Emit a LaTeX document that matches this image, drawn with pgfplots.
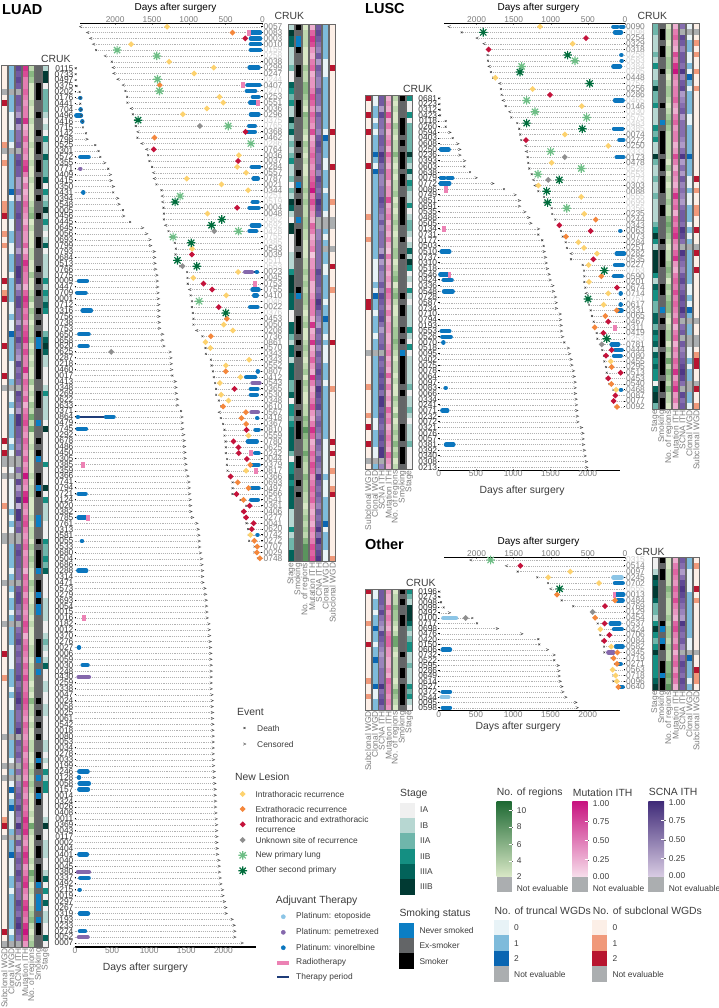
\documentclass[border=0pt]{standalone}
\usepackage{pgfplots}
\pgfplotsset{compat=1.18}
\usepackage{fontspec}
\setmainfont{Liberation Sans}

\definecolor{yel}{RGB}{253,210,110}
\definecolor{org}{RGB}{244,135,60}
\definecolor{rd}{RGB}{196,18,59}
\definecolor{gry}{RGB}{143,143,143}
\definecolor{lstar}{RGB}{109,190,133}
\definecolor{dstar}{RGB}{0,109,60}
\definecolor{vino}{RGB}{11,118,190}
\definecolor{peme}{RGB}{133,104,172}
\definecolor{etop}{RGB}{140,197,230}
\definecolor{radio}{RGB}{236,130,180}
\definecolor{peri}{RGB}{30,60,120}
\definecolor{idgray}{RGB}{125,125,125}
\definecolor{idlight}{RGB}{205,205,205}
\definecolor{labc}{RGB}{60,60,60}
\definecolor{framec}{RGB}{105,105,105}
\definecolor{ne}{RGB}{171,174,176}
\definecolor{stgA}{RGB}{240,240,240}
\definecolor{stgB}{RGB}{183,215,210}
\definecolor{stgC}{RGB}{111,182,171}
\definecolor{stgD}{RGB}{20,143,130}
\definecolor{stgE}{RGB}{2,99,90}
\definecolor{stgF}{RGB}{1,58,51}
\definecolor{smkN}{RGB}{11,126,196}
\definecolor{smkE}{RGB}{99,101,103}
\definecolor{regB}{RGB}{217,232,198}
\definecolor{regT}{RGB}{31,106,52}
\definecolor{mutB}{RGB}{247,222,235}
\definecolor{mutT}{RGB}{200,20,128}
\definecolor{scnB}{RGB}{217,204,227}
\definecolor{scnT}{RGB}{63,42,120}
\definecolor{cloA}{RGB}{232,243,247}
\definecolor{cloB}{RGB}{126,187,219}
\definecolor{cloC}{RGB}{10,102,178}
\definecolor{subA}{RGB}{252,239,231}
\definecolor{subB}{RGB}{240,153,122}
\definecolor{subC}{RGB}{184,21,47}
\newcommand{\q}[1]{\textcolor{idlight}{#1}}
\newcommand{\fid}{\fontsize{8.4}{8.4}\selectfont}
\newcommand{\flab}{\fontsize{10.4}{11}\selectfont}
\newcommand{\fsm}{\fontsize{8.4}{9.4}\selectfont}

% plot marks
\newlength{\ch}
\pgfdeclareplotmark{cell}{\pgfpathrectangle{\pgfpoint{-3.1pt}{-\ch}}{\pgfpoint{6.2pt}{2\ch}}\pgfusepathqfill}
\pgfdeclareplotmark{gt}{\pgfpathmoveto{\pgfpoint{-1.4pt}{1.2pt}}\pgfpathlineto{\pgfpoint{1.4pt}{0pt}}\pgfpathlineto{\pgfpoint{-1.4pt}{-1.2pt}}\pgfusepathqstroke}
\pgfdeclareplotmark{lt}{\pgfpathmoveto{\pgfpoint{1.4pt}{1.2pt}}\pgfpathlineto{\pgfpoint{-1.4pt}{0pt}}\pgfpathlineto{\pgfpoint{1.4pt}{-1.2pt}}\pgfusepathqstroke}
\pgfdeclareplotmark{dia}{\pgfpathmoveto{\pgfpoint{-3pt}{0pt}}\pgfpathlineto{\pgfpoint{0pt}{3pt}}\pgfpathlineto{\pgfpoint{3pt}{0pt}}\pgfpathlineto{\pgfpoint{0pt}{-3pt}}\pgfpathclose\pgfusepathqfill}
\pgfdeclareplotmark{burst}{%
  \pgfpathmoveto{\pgfpoint{-4.3pt}{0pt}}\pgfpathlineto{\pgfpoint{4.3pt}{0pt}}
  \pgfpathmoveto{\pgfpoint{0pt}{-4.3pt}}\pgfpathlineto{\pgfpoint{0pt}{4.3pt}}
  \pgfpathmoveto{\pgfpoint{-3.1pt}{-3.1pt}}\pgfpathlineto{\pgfpoint{3.1pt}{3.1pt}}
  \pgfpathmoveto{\pgfpoint{-3.1pt}{3.1pt}}\pgfpathlineto{\pgfpoint{3.1pt}{-3.1pt}}
  \pgfusepathqstroke}

\pgfplotsset{
  colormap={stg}{rgb255=(171,174,176) rgb255=(240,240,240) rgb255=(183,215,210) rgb255=(111,182,171) rgb255=(20,143,130) rgb255=(2,99,90) rgb255=(1,58,51) rgb255=(1,58,51) rgb255=(1,58,51) rgb255=(1,58,51)},
  colormap={smk}{rgb255=(171,174,176) rgb255=(11,126,196) rgb255=(99,101,103) rgb255=(0,0,0) rgb255=(0,0,0) rgb255=(0,0,0) rgb255=(0,0,0) rgb255=(0,0,0) rgb255=(0,0,0) rgb255=(0,0,0)},
  colormap={reg}{rgb255=(171,174,176) rgb255=(217,232,198) rgb255=(190,216,175) rgb255=(163,200,152) rgb255=(137,183,130) rgb255=(112,166,110) rgb255=(90,148,93) rgb255=(68,130,76) rgb255=(49,118,63) rgb255=(31,106,52)},
  colormap={mut}{rgb255=(171,174,176) rgb255=(247,222,235) rgb255=(243,200,222) rgb255=(238,175,208) rgb255=(232,150,193) rgb255=(227,125,178) rgb255=(222,100,163) rgb255=(217,76,150) rgb255=(210,50,138) rgb255=(200,20,128)},
  colormap={scn}{rgb255=(171,174,176) rgb255=(217,204,227) rgb255=(196,180,214) rgb255=(175,155,201) rgb255=(154,132,188) rgb255=(134,110,175) rgb255=(114,90,162) rgb255=(95,72,148) rgb255=(78,55,134) rgb255=(63,42,120)},
  colormap={clo}{rgb255=(171,174,176) rgb255=(232,243,247) rgb255=(126,187,219) rgb255=(10,102,178) rgb255=(10,102,178) rgb255=(10,102,178) rgb255=(10,102,178) rgb255=(10,102,178) rgb255=(10,102,178) rgb255=(10,102,178)},
  colormap={sub}{rgb255=(171,174,176) rgb255=(252,239,231) rgb255=(240,153,122) rgb255=(184,21,47) rgb255=(184,21,47) rgb255=(184,21,47) rgb255=(184,21,47) rgb255=(184,21,47) rgb255=(184,21,47) rgb255=(184,21,47)},
  cellplot/.style={scatter,only marks,mark=cell,point meta=\thisrowno{0},
    scatter/use mapped color={draw=none,fill=mapped color}},
  heat/.style={scale only axis,clip=false,width=48pt,y dir=reverse,
    xmin=-0.5,xmax=6.5,point meta min=0,point meta max=9,
    axis x line*=bottom,axis y line=none,x axis line style={draw=none},
    xtick={0,...,6},anchor=north west,
    xticklabel style={rotate=90,anchor=east,font=\fid,text=idgray,inner sep=1pt},
    x tick style={framec,line width=.8pt},major tick length=1.6pt},
  swimbase/.style={scale only axis,clip=false,y dir=reverse,anchor=north west,
    xtick={0,500,...,2000},
    /pgf/number format/1000 sep={},/pgf/number format/assume math mode=true,
    xticklabel style={font=\fid,text=idgray,inner sep=.5pt},
    x axis line style={-,black,line width=1.5pt},
    y axis line style={draw=none},
    x tick style={idgray,line width=.4pt},
    y tick style={black,line width=1pt},
    major tick length=1.2pt,
    xlabel style={font=\flab,text=labc,inner sep=0pt},
    yticklabel style={font=\fid,inner sep=1pt}},
  swimL/.style={swimbase,axis x line*=bottom,axis y line*=left,
    yticklabel style={text=black!80}},
  swimR/.style={swimbase,x dir=reverse,axis x line*=top,axis y line*=right,
    xmin=0,yticklabel style={text=idgray,anchor=west},xlabel near ticks},
  endbase/.style={scatter,only marks,point meta=explicit symbolic,
    /pgfplots/error bars/x dir=minus,/pgfplots/error bars/x explicit,/pgfplots/error bars/error mark=none,
    /pgfplots/error bars/error bar style={color=black!30,line width=.3pt,dash pattern=on 1pt off .9pt}},
  endsL/.style={scatter/classes={
    d={mark=x,mark size=1.3pt,draw=black!75,line width=.45pt},
    c={mark=gt,draw=black!75,line width=.4pt}},endbase},
  endsR/.style={scatter/classes={
    d={mark=x,mark size=1.3pt,draw=black!75,line width=.45pt},
    c={mark=lt,draw=black!75,line width=.4pt}},endbase},
  yl/.style={only marks,mark=dia,color=yel},
  og/.style={only marks,mark=dia,color=org},
  rr/.style={only marks,mark=dia,color=rd},
  gg/.style={only marks,mark=dia,color=gry},
  ls/.style={only marks,mark=burst,color=lstar,line width=1.2pt},
  ds/.style={only marks,mark=burst,color=dstar,line width=1.2pt},
  pk/.style={only marks,mark=square*,mark size=1.5pt,color=radio,mark options={yscale=1.7,xscale=.9}},
  hidden/.style={only marks,mark=*,mark size=0pt,mark options={draw=none,fill=none}},
}
\newcommand{\heatcol}[3]{\addplot[cellplot,colormap name=#2] table[header=false,row sep=\\,x expr=#1,y expr=\coordindex]{#3};}
\newcommand{\stops}[2]{\addplot[#1] table[header=false,row sep=\\,x index=0,y expr=\coordindex,meta index=1,x error expr=\thisrowno{0}]{#2};}
\newcommand{\thera}[2]{\addplot[hidden,error bars/.cd,x dir=plus,x explicit,error mark=none,error bar style={line width=4.4pt,line cap=round,color=#1}] table[header=false,row sep=\\,x index=0,y index=1,x error index=2]{#2};}
\newcommand{\period}[1]{\addplot[hidden,error bars/.cd,x dir=plus,x explicit,error mark=none,error bar style={line width=1.1pt,color=peri}] table[header=false,row sep=\\,x index=0,y index=1,x error index=2]{#1};}
\newcommand{\evt}[2]{\addplot[#1] coordinates {#2};}
\newcommand{\frames}[3]{\foreach \kk in {0,...,6}{\draw[framec,line width=.9pt] ({(#1+0.4+6.86*\kk)*1pt},{-#2*1pt}) rectangle ++(6.1pt,{-(#3-#2)*1pt});}}
\newcommand{\Tx}[3]{\node[anchor=west,inner sep=0pt,text=labc,font=\fsm,align=left] at (axis cs:#1,#2) {#3};}
\newcommand{\Hd}[3]{\node[anchor=west,inner sep=0pt,text=labc,font=\flab] at (axis cs:#1,#2) {#3};}
\newcommand{\Bx}[5]{\fill[#5] (axis cs:#1,#2) rectangle (axis cs:#3,#4);}
\newcommand{\Tk}[2]{\draw[white,line width=.5pt] (axis cs:#1-3,#2) -- (axis cs:#1,#2);\draw[black!60,line width=.4pt] (axis cs:#1,#2) -- (axis cs:#1+1.5,#2);}

\begin{document}
\begin{tikzpicture}
\path[use as bounding box] (0,0) rectangle (719pt,-1008pt);

%======================= LUAD, left heat =======================
\setlength{\ch}{3.0pt}
\begin{axis}[heat,at={(1pt,-65pt)},height=882pt,ymin=-0.5,ymax=148.5,
  xticklabels={Subclonal WGD,Clonal WGD,SCNA ITH,Mutation ITH,No. of regions,Smoking,Stage}]
\heatcol{0}{sub}{1\\1\\1\\1\\0\\1\\3\\1\\1\\1\\
1\\1\\1\\2\\0\\1\\2\\1\\1\\1\\
1\\1\\1\\2\\2\\3\\1\\1\\2\\1\\
2\\1\\1\\1\\1\\1\\3\\1\\2\\3\\
1\\1\\1\\1\\1\\1\\1\\3\\1\\1\\
1\\1\\3\\1\\0\\1\\1\\1\\1\\1\\
1\\1\\1\\3\\1\\3\\0\\0\\1\\0\\
1\\1\\1\\1\\2\\1\\1\\1\\1\\0\\
0\\1\\1\\1\\1\\1\\1\\0\\1\\1\\
1\\1\\1\\1\\0\\1\\1\\1\\1\\3\\
1\\1\\1\\2\\1\\1\\1\\1\\1\\1\\
1\\1\\1\\0\\1\\1\\1\\1\\0\\1\\
0\\1\\1\\1\\1\\1\\1\\2\\3\\1\\
0\\1\\1\\1\\1\\1\\1\\1\\1\\1\\
1\\1\\1\\1\\1\\1\\3\\1\\0\\}
\heatcol{1}{clo}{2\\2\\2\\2\\0\\2\\2\\2\\1\\1\\
1\\2\\2\\1\\0\\2\\2\\2\\2\\2\\
2\\3\\1\\2\\2\\2\\1\\1\\2\\2\\
1\\1\\2\\2\\2\\1\\2\\2\\2\\2\\
1\\1\\2\\1\\1\\3\\2\\2\\2\\2\\
1\\1\\1\\2\\0\\1\\1\\2\\1\\2\\
2\\2\\2\\1\\2\\1\\0\\0\\1\\0\\
1\\1\\1\\1\\1\\2\\1\\2\\1\\0\\
0\\2\\2\\2\\2\\1\\2\\0\\2\\1\\
2\\2\\1\\2\\0\\2\\2\\2\\1\\1\\
1\\1\\2\\2\\2\\1\\2\\1\\1\\2\\
2\\2\\2\\0\\2\\2\\2\\1\\0\\2\\
0\\1\\3\\1\\2\\3\\1\\1\\1\\2\\
0\\2\\2\\3\\1\\1\\1\\2\\2\\1\\
2\\2\\2\\2\\2\\2\\1\\2\\0\\}
\heatcol{2}{scn}{7\\6\\7\\6\\0\\6\\6\\5\\3\\7\\
3\\5\\5\\6\\0\\6\\7\\6\\6\\3\\
3\\5\\2\\6\\6\\7\\6\\6\\5\\5\\
5\\3\\6\\6\\8\\8\\7\\3\\5\\7\\
7\\5\\5\\3\\6\\5\\7\\5\\4\\3\\
7\\5\\6\\5\\0\\7\\6\\5\\3\\8\\
8\\6\\6\\5\\4\\6\\0\\0\\5\\0\\
7\\3\\5\\8\\2\\8\\8\\5\\6\\0\\
0\\6\\7\\6\\6\\5\\5\\0\\6\\7\\
7\\5\\4\\6\\0\\5\\6\\7\\5\\6\\
5\\6\\6\\7\\5\\6\\7\\8\\6\\5\\
5\\6\\8\\0\\6\\5\\6\\4\\0\\5\\
0\\4\\5\\6\\5\\7\\5\\4\\8\\5\\
0\\6\\3\\5\\6\\5\\7\\6\\4\\5\\
5\\7\\6\\5\\7\\8\\6\\5\\0\\}
\heatcol{3}{mut}{8\\7\\5\\5\\6\\5\\4\\5\\5\\8\\
3\\4\\6\\4\\5\\4\\7\\8\\5\\3\\
5\\3\\4\\6\\5\\4\\3\\5\\4\\4\\
6\\3\\5\\8\\6\\5\\5\\3\\6\\8\\
7\\5\\6\\4\\6\\7\\8\\5\\7\\5\\
5\\8\\4\\6\\5\\4\\6\\3\\5\\6\\
7\\5\\4\\6\\5\\4\\6\\4\\5\\9\\
5\\4\\8\\9\\5\\4\\6\\7\\5\\4\\
5\\6\\4\\5\\5\\3\\6\\5\\6\\4\\
6\\5\\4\\5\\7\\6\\3\\5\\6\\5\\
4\\6\\5\\7\\5\\5\\6\\7\\6\\5\\
4\\6\\5\\4\\5\\6\\4\\5\\6\\5\\
4\\7\\5\\4\\6\\5\\6\\8\\7\\8\\
5\\4\\6\\8\\7\\4\\5\\7\\8\\5\\
4\\7\\8\\6\\5\\8\\9\\7\\4\\}
\heatcol{4}{reg}{2\\4\\3\\1\\1\\1\\2\\1\\1\\2\\
1\\1\\1\\2\\1\\1\\2\\1\\1\\2\\
1\\1\\1\\2\\3\\4\\1\\2\\1\\1\\
1\\2\\2\\1\\1\\3\\1\\1\\2\\3\\
1\\3\\2\\1\\2\\2\\3\\1\\2\\1\\
2\\1\\1\\3\\1\\2\\1\\3\\2\\5\\
2\\5\\1\\1\\2\\1\\1\\1\\1\\2\\
1\\2\\2\\1\\1\\1\\2\\1\\2\\2\\
1\\3\\2\\3\\2\\1\\1\\3\\2\\1\\
1\\2\\2\\1\\2\\1\\1\\1\\2\\2\\
1\\2\\2\\2\\1\\2\\1\\4\\2\\2\\
1\\2\\1\\1\\2\\2\\1\\1\\2\\3\\
2\\3\\2\\1\\1\\1\\2\\1\\5\\2\\
1\\1\\1\\1\\2\\1\\5\\3\\1\\2\\
1\\1\\2\\3\\4\\2\\1\\2\\3\\}
\heatcol{5}{smk}{2\\2\\2\\3\\3\\3\\2\\2\\3\\2\\
2\\3\\2\\3\\3\\2\\3\\3\\2\\3\\
3\\2\\3\\2\\2\\3\\2\\2\\2\\3\\
3\\2\\2\\2\\3\\2\\3\\2\\3\\2\\
2\\3\\2\\3\\2\\3\\1\\1\\3\\3\\
3\\3\\3\\2\\2\\3\\3\\3\\2\\2\\
1\\2\\2\\3\\2\\3\\1\\2\\2\\3\\
3\\1\\3\\2\\2\\2\\1\\1\\2\\2\\
3\\2\\3\\3\\3\\1\\2\\3\\3\\1\\
3\\1\\1\\2\\2\\2\\2\\3\\3\\3\\
1\\2\\1\\2\\2\\2\\2\\3\\2\\3\\
2\\3\\2\\3\\2\\2\\3\\1\\3\\2\\
1\\2\\3\\1\\3\\2\\2\\2\\2\\2\\
3\\2\\3\\3\\2\\3\\3\\3\\1\\2\\
1\\1\\1\\2\\1\\3\\3\\2\\2\\}
\heatcol{6}{stg}{2\\6\\6\\1\\3\\3\\3\\3\\2\\1\\
2\\1\\4\\2\\2\\5\\3\\3\\3\\5\\
1\\4\\2\\3\\6\\2\\4\\2\\1\\2\\
5\\1\\2\\2\\2\\2\\4\\2\\4\\3\\
5\\4\\1\\1\\1\\3\\5\\6\\5\\2\\
2\\1\\1\\1\\2\\4\\2\\2\\2\\2\\
1\\6\\1\\1\\1\\1\\1\\4\\1\\1\\
1\\6\\1\\4\\2\\2\\2\\1\\1\\1\\
4\\3\\3\\4\\3\\5\\1\\1\\1\\1\\
2\\2\\2\\2\\1\\1\\2\\3\\2\\1\\
2\\5\\1\\1\\2\\2\\1\\1\\2\\2\\
1\\1\\1\\1\\2\\2\\1\\2\\1\\4\\
2\\4\\4\\1\\1\\1\\1\\2\\6\\1\\
1\\2\\2\\2\\1\\1\\2\\5\\1\\4\\
1\\5\\1\\2\\2\\1\\1\\5\\1\\}
\end{axis}
\frames{1}{65}{947}

%======================= LUAD, right heat =======================
\setlength{\ch}{2.95pt}
\begin{axis}[heat,at={(288pt,-24pt)},height=537.7pt,ymin=-0.5,ymax=91.5,
  xticklabels={Stage,Smoking,No. of regions,Mutation ITH,SCNA ITH,Clonal WGD,Subclonal WGD}]
\heatcol{0}{stg}{2\\6\\5\\5\\2\\2\\2\\3\\1\\1\\
5\\4\\3\\4\\2\\2\\6\\3\\5\\2\\
3\\2\\3\\4\\2\\2\\3\\1\\3\\2\\
6\\5\\2\\1\\6\\6\\1\\1\\1\\2\\
2\\2\\4\\6\\6\\6\\5\\5\\5\\1\\
1\\5\\5\\3\\2\\5\\5\\2\\5\\5\\
5\\3\\3\\5\\1\\4\\4\\3\\4\\5\\
5\\5\\5\\3\\1\\4\\4\\5\\4\\5\\
5\\5\\5\\2\\2\\2\\4\\2\\3\\3\\5\\5\\}
\heatcol{1}{smk}{3\\2\\1\\1\\3\\2\\2\\3\\3\\2\\
2\\2\\2\\3\\3\\3\\2\\2\\2\\2\\
3\\2\\3\\2\\2\\3\\2\\1\\3\\2\\
3\\2\\2\\1\\2\\3\\3\\3\\2\\3\\
2\\2\\2\\2\\2\\3\\1\\2\\2\\2\\
3\\3\\3\\2\\3\\2\\3\\2\\2\\2\\
2\\3\\3\\3\\3\\2\\3\\2\\3\\3\\
3\\2\\2\\2\\3\\3\\2\\2\\3\\2\\
3\\2\\2\\2\\2\\2\\2\\2\\2\\2\\2\\2\\}
\heatcol{2}{reg}{1\\2\\2\\2\\1\\1\\1\\3\\2\\2\\
4\\4\\3\\2\\1\\4\\3\\3\\2\\1\\
3\\2\\1\\2\\1\\1\\2\\2\\3\\2\\
3\\2\\2\\3\\3\\2\\2\\1\\1\\1\\
2\\2\\3\\2\\3\\2\\3\\3\\2\\1\\
2\\3\\1\\1\\2\\3\\2\\1\\2\\3\\
1\\3\\2\\1\\1\\2\\2\\4\\3\\6\\
4\\3\\3\\5\\3\\2\\2\\4\\3\\3\\
2\\2\\1\\2\\3\\2\\3\\2\\4\\6\\6\\6\\}
\heatcol{3}{mut}{3\\6\\8\\7\\4\\3\\5\\6\\3\\4\\
4\\5\\7\\6\\4\\6\\5\\4\\7\\3\\
4\\5\\6\\5\\4\\5\\6\\7\\9\\5\\
7\\5\\4\\3\\6\\5\\3\\4\\5\\2\\
4\\4\\5\\5\\3\\3\\4\\5\\5\\5\\
3\\8\\3\\4\\8\\3\\4\\6\\4\\3\\
8\\5\\3\\4\\5\\7\\4\\3\\5\\8\\
6\\3\\4\\6\\5\\7\\6\\4\\5\\6\\
5\\6\\4\\3\\4\\3\\5\\4\\5\\7\\6\\7\\}
\heatcol{4}{scn}{6\\7\\6\\5\\4\\6\\3\\6\\5\\4\\
4\\6\\5\\5\\3\\6\\5\\5\\4\\6\\
7\\6\\5\\5\\6\\4\\7\\6\\5\\6\\
8\\7\\6\\0\\0\\4\\4\\5\\5\\5\\
5\\5\\7\\6\\6\\5\\6\\8\\7\\5\\
4\\3\\6\\5\\6\\4\\6\\5\\6\\7\\
6\\5\\8\\7\\6\\7\\4\\5\\6\\5\\
4\\6\\5\\4\\6\\5\\4\\8\\6\\5\\
6\\5\\4\\6\\5\\6\\8\\5\\8\\6\\7\\8\\}
\heatcol{5}{clo}{2\\2\\2\\2\\2\\2\\1\\1\\1\\2\\
2\\2\\2\\2\\2\\2\\2\\2\\1\\3\\
2\\2\\2\\1\\1\\2\\2\\2\\1\\2\\
2\\2\\1\\0\\0\\2\\1\\2\\0\\2\\
2\\1\\1\\2\\2\\2\\2\\1\\2\\2\\
3\\2\\2\\1\\2\\1\\1\\1\\2\\2\\
2\\1\\2\\2\\2\\2\\2\\2\\2\\2\\
2\\1\\1\\1\\1\\1\\1\\2\\1\\1\\
1\\2\\2\\2\\2\\3\\1\\2\\2\\2\\1\\1\\}
\heatcol{6}{sub}{1\\1\\1\\1\\1\\1\\1\\3\\1\\1\\
1\\1\\1\\1\\1\\1\\1\\1\\3\\1\\
1\\1\\1\\1\\3\\1\\1\\1\\1\\1\\
2\\1\\1\\0\\0\\1\\1\\1\\0\\1\\
1\\3\\1\\1\\1\\2\\1\\1\\1\\1\\
1\\1\\1\\1\\3\\1\\1\\1\\1\\1\\
1\\1\\2\\1\\1\\1\\1\\1\\1\\1\\
1\\3\\1\\3\\1\\1\\2\\1\\1\\2\\
3\\1\\1\\1\\1\\1\\1\\1\\1\\1\\1\\2\\}
\end{axis}
\frames{288}{24}{561.7}

%======================= LUSC, left heat =======================
\setlength{\ch}{2.9pt}
\begin{axis}[heat,at={(364.7pt,-95pt)},height=374.3pt,ymin=-0.5,ymax=65.5,
  xticklabels={Subclonal WGD,Clonal WGD,SCNA ITH,Mutation ITH,No. of regions,Smoking,Stage}]
\heatcol{0}{sub}{3\\1\\1\\3\\1\\1\\3\\1\\1\\1\\
1\\1\\3\\1\\1\\1\\1\\1\\1\\1\\
1\\2\\1\\1\\1\\2\\1\\1\\1\\1\\
1\\1\\1\\1\\1\\1\\3\\3\\1\\1\\
1\\1\\1\\1\\1\\0\\1\\1\\1\\1\\
1\\2\\1\\1\\1\\1\\2\\1\\3\\1\\
1\\3\\1\\1\\0\\1\\}
\heatcol{1}{clo}{1\\1\\2\\2\\1\\2\\1\\2\\2\\2\\
3\\2\\1\\3\\2\\2\\2\\2\\2\\2\\
2\\2\\2\\2\\2\\2\\2\\2\\2\\1\\
1\\1\\1\\2\\1\\3\\2\\2\\1\\2\\
2\\2\\1\\2\\2\\0\\2\\2\\2\\2\\
2\\2\\2\\2\\2\\2\\2\\1\\1\\2\\
2\\2\\1\\1\\0\\2\\}
\heatcol{2}{scn}{6\\6\\3\\7\\5\\5\\4\\6\\6\\5\\
8\\7\\5\\6\\4\\4\\5\\5\\7\\6\\
5\\4\\6\\4\\5\\5\\5\\3\\7\\3\\
5\\4\\4\\6\\4\\7\\6\\5\\6\\7\\
5\\3\\5\\5\\6\\0\\6\\5\\6\\7\\
6\\7\\5\\8\\8\\6\\7\\6\\5\\6\\
7\\6\\8\\8\\0\\4\\}
\heatcol{3}{mut}{3\\4\\3\\7\\3\\5\\3\\4\\5\\3\\
6\\4\\3\\5\\5\\3\\4\\4\\7\\3\\
4\\5\\3\\4\\3\\5\\3\\2\\5\\3\\
4\\3\\4\\3\\6\\5\\4\\3\\5\\3\\
4\\4\\3\\3\\4\\5\\3\\4\\3\\6\\
3\\5\\3\\4\\3\\6\\4\\5\\3\\4\\
5\\4\\3\\6\\4\\3\\}
\heatcol{4}{reg}{2\\1\\2\\1\\1\\3\\2\\1\\2\\2\\
4\\2\\1\\2\\1\\2\\2\\3\\1\\2\\
1\\2\\3\\2\\1\\2\\2\\3\\3\\1\\
2\\3\\4\\1\\3\\4\\2\\1\\1\\2\\
2\\3\\3\\4\\3\\2\\1\\2\\2\\1\\
2\\1\\1\\3\\2\\1\\3\\1\\2\\3\\
2\\4\\2\\3\\1\\2\\}
\heatcol{5}{smk}{3\\2\\2\\2\\3\\3\\3\\2\\3\\2\\
3\\3\\3\\2\\3\\3\\2\\2\\3\\3\\
3\\3\\3\\2\\2\\3\\2\\2\\3\\2\\
2\\2\\2\\2\\2\\3\\2\\3\\3\\2\\
2\\3\\2\\3\\2\\1\\3\\3\\3\\3\\
3\\2\\3\\2\\2\\2\\2\\2\\3\\3\\
3\\2\\3\\3\\3\\2\\}
\heatcol{6}{stg}{4\\1\\1\\4\\1\\3\\3\\3\\3\\3\\
6\\3\\2\\5\\2\\4\\3\\2\\2\\4\\
1\\2\\3\\3\\2\\1\\2\\5\\2\\6\\
4\\1\\2\\1\\4\\2\\1\\2\\2\\2\\
2\\4\\2\\1\\4\\1\\2\\2\\2\\2\\
2\\3\\1\\2\\2\\3\\2\\1\\2\\2\\
2\\3\\1\\1\\1\\1\\}
\end{axis}
\frames{364.7}{95}{469.3}

%======================= LUSC, right heat =======================
\setlength{\ch}{2.9pt}
\begin{axis}[heat,at={(651.7pt,-23.3pt)},height=385.7pt,ymin=-0.5,ymax=67.5,
  xticklabels={Stage,Smoking,No. of regions,Mutation ITH,SCNA ITH,Clonal WGD,Subclonal WGD}]
\heatcol{0}{stg}{3\\3\\2\\2\\2\\3\\2\\4\\2\\2\\
3\\6\\3\\3\\4\\2\\2\\2\\4\\3\\
4\\2\\2\\6\\3\\2\\2\\3\\2\\2\\
3\\2\\2\\2\\2\\3\\4\\6\\4\\2\\
6\\6\\6\\6\\4\\2\\5\\4\\4\\3\\
3\\5\\5\\3\\5\\4\\5\\2\\5\\4\\
5\\4\\4\\1\\5\\6\\6\\3\\}
\heatcol{1}{smk}{2\\3\\3\\2\\3\\3\\2\\2\\3\\2\\
2\\2\\2\\2\\3\\2\\2\\1\\2\\3\\
3\\3\\3\\2\\3\\3\\2\\3\\3\\3\\
2\\2\\3\\3\\2\\2\\2\\2\\3\\2\\
3\\3\\3\\2\\2\\2\\3\\3\\2\\2\\
1\\2\\3\\2\\3\\3\\3\\2\\3\\3\\
3\\3\\2\\3\\3\\2\\3\\3\\}
\heatcol{2}{reg}{1\\2\\2\\1\\2\\2\\3\\3\\2\\1\\
2\\3\\3\\2\\1\\2\\3\\4\\3\\2\\
2\\2\\2\\2\\1\\3\\1\\2\\1\\2\\
2\\3\\2\\2\\4\\5\\4\\3\\2\\1\\
2\\2\\3\\4\\3\\1\\3\\2\\3\\4\\
4\\2\\1\\2\\3\\3\\1\\3\\2\\5\\
2\\4\\3\\2\\4\\2\\2\\1\\}
\heatcol{3}{mut}{3\\5\\6\\4\\3\\7\\5\\8\\9\\5\\
4\\5\\5\\6\\4\\3\\5\\6\\4\\5\\
5\\3\\4\\7\\5\\3\\5\\4\\3\\5\\
8\\5\\6\\3\\6\\5\\7\\8\\5\\4\\
6\\8\\4\\3\\5\\6\\5\\7\\5\\6\\
5\\4\\6\\3\\5\\6\\3\\5\\4\\6\\
5\\8\\4\\6\\8\\4\\5\\3\\}
\heatcol{4}{scn}{5\\0\\7\\6\\4\\6\\6\\5\\8\\4\\
6\\7\\3\\4\\5\\6\\3\\5\\5\\5\\
4\\3\\5\\8\\3\\5\\3\\6\\4\\5\\
4\\3\\5\\6\\6\\5\\8\\7\\5\\0\\
8\\6\\5\\4\\6\\7\\5\\6\\7\\6\\
8\\6\\0\\5\\6\\0\\6\\4\\5\\6\\
7\\8\\7\\5\\0\\7\\5\\6\\}
\heatcol{5}{clo}{1\\0\\1\\2\\2\\1\\1\\2\\1\\3\\
2\\1\\2\\2\\2\\2\\1\\1\\2\\2\\
2\\2\\2\\3\\2\\2\\2\\1\\1\\2\\
1\\1\\2\\2\\2\\1\\2\\1\\2\\0\\
2\\2\\2\\2\\2\\2\\1\\1\\2\\1\\
3\\2\\0\\2\\2\\0\\0\\1\\1\\2\\
1\\2\\2\\0\\0\\2\\2\\1\\}
\heatcol{6}{sub}{1\\0\\1\\2\\1\\2\\1\\1\\2\\1\\
1\\2\\1\\1\\1\\1\\1\\1\\1\\1\\
1\\1\\1\\1\\1\\1\\1\\3\\1\\2\\
1\\1\\2\\2\\1\\1\\3\\1\\1\\0\\
3\\1\\1\\3\\1\\1\\1\\1\\1\\1\\
1\\1\\0\\1\\1\\0\\0\\1\\2\\3\\
3\\1\\1\\0\\3\\1\\1\\2\\}
\end{axis}
\frames{651.7}{23.3}{409}

%======================= Other, left heat =======================
\setlength{\ch}{2.7pt}
\begin{axis}[heat,at={(364.7pt,-589pt)},height=121pt,ymin=-0.5,ymax=22.5,
  xticklabels={Subclonal WGD,Clonal WGD,SCNA ITH,Mutation ITH,No. of regions,Smoking,Stage}]
\heatcol{0}{sub}{3\\1\\1\\1\\1\\1\\2\\1\\1\\1\\3\\1\\1\\1\\1\\1\\1\\2\\1\\1\\2\\1\\1\\}
\heatcol{1}{clo}{1\\1\\2\\2\\1\\2\\2\\3\\2\\2\\1\\2\\2\\3\\2\\2\\2\\2\\3\\1\\1\\2\\2\\}
\heatcol{2}{scn}{6\\6\\6\\5\\7\\5\\4\\3\\7\\6\\5\\4\\3\\4\\4\\5\\5\\5\\8\\5\\6\\7\\5\\}
\heatcol{3}{mut}{4\\3\\3\\6\\4\\5\\4\\3\\5\\6\\6\\4\\4\\3\\3\\4\\3\\6\\5\\5\\4\\5\\4\\}
\heatcol{4}{reg}{1\\2\\2\\4\\3\\3\\2\\1\\2\\5\\5\\2\\1\\2\\2\\2\\2\\1\\2\\4\\3\\2\\1\\}
\heatcol{5}{smk}{3\\2\\3\\2\\2\\3\\3\\2\\2\\2\\2\\2\\3\\2\\2\\3\\3\\2\\3\\3\\3\\3\\2\\}
\heatcol{6}{stg}{4\\3\\2\\6\\6\\6\\5\\3\\2\\3\\4\\4\\2\\2\\3\\2\\2\\2\\4\\3\\4\\2\\1\\}
\end{axis}
\frames{364.7}{589}{710}

%======================= Other, right heat =======================
\setlength{\ch}{2.95pt}
\begin{axis}[heat,at={(651.7pt,-557.3pt)},height=132.7pt,ymin=-0.5,ymax=22.5,
  xticklabels={Stage,Smoking,No. of regions,Mutation ITH,SCNA ITH,Clonal WGD,Subclonal WGD}]
\heatcol{0}{stg}{1\\1\\2\\6\\5\\6\\6\\5\\3\\3\\2\\4\\6\\4\\3\\4\\6\\4\\4\\4\\4\\5\\6\\}
\heatcol{1}{smk}{3\\2\\3\\3\\2\\2\\2\\2\\2\\2\\2\\3\\1\\2\\1\\3\\2\\2\\3\\3\\1\\3\\3\\}
\heatcol{2}{reg}{1\\1\\2\\2\\2\\4\\3\\2\\2\\2\\3\\2\\3\\3\\2\\3\\2\\2\\4\\4\\5\\4\\6\\}
\heatcol{3}{mut}{3\\5\\6\\5\\4\\6\\5\\7\\5\\4\\3\\6\\7\\5\\4\\6\\3\\5\\6\\4\\6\\5\\3\\}
\heatcol{4}{scn}{6\\5\\3\\5\\7\\8\\7\\6\\5\\4\\3\\8\\6\\5\\6\\4\\0\\5\\7\\6\\5\\7\\6\\}
\heatcol{5}{clo}{2\\2\\1\\1\\1\\1\\2\\2\\2\\2\\2\\2\\2\\2\\1\\1\\0\\3\\2\\2\\2\\1\\2\\}
\heatcol{6}{sub}{1\\2\\1\\1\\1\\3\\1\\2\\1\\1\\1\\1\\1\\1\\1\\1\\0\\1\\1\\3\\2\\2\\1\\}
\end{axis}
\frames{651.7}{557.3}{690}

%======================= LUAD, left swimmers =======================
\begin{axis}[swimL,at={(74.6pt,-65.3pt)},width=181.4pt,height=881.7pt,
  xmin=-5,xmax=2440,ymin=-0.5,ymax=148.68,
  xlabel={Days after surgery},xlabel style={xshift=-20pt,yshift=-8.5pt},
  ytick={0,...,148},
  yticklabels={0115,0733,0497,0375,0202,0176,0441,0704,0496,0416,0715,0142,0798,0525,0301,0572,0355,0771,0409,0415,0350,0431,0394,0548,0005,0456,0445,0645,0056,0693,0799,0793,0684,0513,0766,0775,0009,0447,0709,0001,0712,0316,0756,0738,0753,0650,0658,0620,0625,0287,0218,0460,0017,0413,0348,0269,0622,0633,0371,0864,0479,0745,0292,0678,0486,0450,0305,0385,0359,0366,0741,0794,0721,0124,0020,0382,0785,0761,0313,0581,0055,0533,0680,0504,0686,0288,0314,0471,0573,0279,0693,0054,0015,0016,0182,0012,0370,0276,0027,0006,0059,0030,0248,0430,0259,0338,0047,0024,0058,0025,0061,0542,0018,0080,0053,0034,0278,0033,0199,0246,0128,0058,0157,0014,0324,0026,0408,0011,0369,0043,0117,0002,0404,0401,0040,0045,0380,0337,0492,0215,0019,0297,0267,0319,0193,0233,0274,0052,0007}]
\stops{endsL}{10 d\\10 d\\10 d\\20 d\\63 d\\72 d\\72 d\\85 d\\85 d\\103 d\\
108 d\\148 d\\161 c\\274 d\\318 d\\341 d\\399 c\\448 d\\475 c\\484 c\\
516 c\\516 d\\574 c\\592 c\\646 d\\655 c\\744 d\\910 c\\964 c\\1009 c\\
1018 c\\1067 c\\1072 c\\1076 c\\1085 c\\1103 c\\1108 c\\1112 c\\1117 c\\1121 c\\
1126 c\\1130 c\\1130 c\\1134 c\\1139 c\\1179 c\\1179 c\\1197 c\\1282 c\\1291 c\\
1296 c\\1300 c\\1314 d\\1350 c\\1359 c\\1363 c\\1377 c\\1381 c\\1430 d\\1439 c\\
1444 c\\1448 c\\1462 c\\1471 c\\1475 c\\1480 c\\1484 c\\1493 c\\1498 c\\1520 c\\
1534 c\\1538 c\\1542 c\\1551 c\\1556 c\\1560 c\\1583 c\\1641 c\\1659 c\\1668 c\\
1673 c\\1677 c\\1690 c\\1704 c\\1708 c\\1717 c\\1717 c\\1722 c\\1749 c\\1758 c\\
1767 c\\1771 c\\1775 c\\1780 c\\1803 c\\1807 c\\1812 c\\1821 c\\1825 c\\1829 c\\
1829 c\\1834 c\\1834 c\\1834 c\\1834 c\\1834 c\\1843 c\\1847 c\\1847 c\\1852 c\\
1852 c\\1856 c\\1856 c\\1861 c\\1861 c\\1861 c\\1861 c\\1865 c\\1865 c\\1874 c\\
1874 c\\1883 c\\1888 c\\1888 c\\1892 c\\1892 c\\1897 c\\1901 c\\1906 c\\1906 c\\
1910 c\\1910 c\\1915 c\\1919 c\\1937 c\\1942 c\\1946 c\\1955 c\\1964 c\\1986 c\\
1991 c\\2013 c\\2031 c\\2036 c\\2116 c\\2143 c\\2152 c\\2152 c\\2251 c\\}
\period{40 59 400\\}
\thera{vino}{71 5 2\\75 7 2\\18 8 63\\98 9 2\\72 15 112\\111 21 2\\54 36 107\\31 38 112\\103 41 112\\58 45 126\\63 47 107\\39 59 2\\417 59 103\\36 61 112\\49 72 94\\49 76 90\\93 80 2\\45 85 107\\53 98 2\\103 101 67\\58 119 112\\53 120 2\\63 121 125\\58 122 117\\58 133 103\\72 137 112\\62 139 2\\67 143 108\\67 146 68\\}
\thera{peme}{71 17 2\\49 103 139\\40 136 148\\54 147 116\\}
\evt{pk}{(103,67)(170,76)(121,93)}
\evt{gg}{(489,48)}
\end{axis}

%======================= LUAD, right swimmers =======================
\begin{axis}[swimR,at={(80.5pt,-23.3pt)},width=182pt,height=537.9pt,
  xmax=2470,ymin=-0.58,ymax=91.5,
  xlabel={Days after surgery},xlabel style={xshift=4pt},
  ytick={0,...,91},
  yticklabels={0057,0083,0003,0010,\q{0159},\q{0258},0038,0299,0247,\q{0244},0407,\q{0270},0253,0551,0036,0296,\q{0375},\q{0765},0368,0462,\q{0286},0764,0036,0037,0284,0557,0787,0021,0344,\q{0251},\q{0519},0004,0048,\q{0362},\q{0692},\q{0428},\q{0755},\q{0385},0543,0039,\q{0511},\q{0553},0023,0045,0753,0755,0410,\q{0046},0022,\q{0376},0453,0050,0208,0736,0861,0570,0343,0343,0552,0807,0412,0543,0365,0530,0348,0610,0567,0418,0367,0810,0559,0780,0625,0242,0044,0379,0817,0366,0693,0497,0566,0541,0361,0406,0277,0041,0620,0742,0272,0707,0029,0748}]
\stops{endsR}{2466 c\\2371 c\\2330 c\\2290 c\\2258 d\\2131 c\\2045 d\\2023 c\\2014 c\\1959 c\\
1887 c\\1860 d\\1837 d\\1833 d\\1778 c\\1760 d\\1724 d\\1720 d\\1688 c\\1697 d\\
1634 c\\1570 c\\1552 d\\1534 d\\1498 d\\1475 c\\1466 c\\1439 d\\1371 d\\1358 c\\
1353 c\\1344 d\\1339 d\\1339 d\\1312 c\\1276 d\\1240 d\\1190 d\\1176 d\\1181 d\\
1181 c\\1118 d\\1023 d\\1018 d\\1014 d\\986 c\\977 d\\959 d\\959 d\\946 d\\
937 d\\937 d\\891 c\\815 d\\774 d\\774 d\\769 d\\701 d\\692 d\\674 d\\
661 d\\643 d\\629 d\\629 d\\593 d\\561 d\\584 c\\566 d\\534 d\\516 d\\
516 d\\502 d\\498 d\\498 d\\480 d\\484 d\\475 d\\453 d\\407 d\\407 d\\
407 d\\299 d\\222 d\\272 d\\244 d\\217 d\\195 d\\186 d\\181 d\\109 d\\109 d\\63 d\\}
\period{86 10 14\\77 42 68\\}
\thera{vino}{32 1 126\\32 2 126\\32 3 126\\32 4 126\\54 7 122\\100 10 104\\41 10 45\\100 11 113\\54 12 77\\77 13 90\\54 15 104\\104 17 77\\104 18 100\\45 24 100\\63 26 59\\68 30 63\\54 31 122\\41 34 104\\86 35 90\\76 42 2\\54 45 82\\77 46 36\\68 48 99\\62 59 2\\100 60 122\\68 62 90\\77 63 81\\71 67 2\\54 69 41\\77 71 122\\54 73 46\\54 75 82\\54 79 91\\63 81 91\\67 87 2\\}
\thera{peme}{145 42 90\\41 61 95\\63 66 86\\}
\evt{pk}{(190,1)(271,10)(63,13)(104,44)(158,73)(95,76)}
\evt{yl}{(1294,0)(1783,3)(1267,6)(661,7)(928,8)(584,12)(534,13)(756,14)(1081,15)(321,22)(344,24)(222,25)(1027,26)(557,27)(195,28)(747,32)(955,38)(330,42)(941,43)(493,46)(525,51)(403,52)(774,54)(706,55)(181,57)(498,58)(299,60)(579,61)(561,63)(462,64)(190,70)(222,76)(163,87)}
\evt{og}{(407,1)(1394,10)(1466,19)(484,50)(701,53)(498,59)(534,65)(226,66)(285,67)(222,68)(167,75)(335,78)(190,79)(258,81)(109,88)(72,89)(77,90)(36,91)}
\evt{rr}{(235,2)(231,18)(1475,21)(330,23)(344,31)(959,39)(801,44)(683,45)(593,48)(380,62)(217,69)(394,71)(326,72)(321,73)(213,74)(434,77)(353,80)(176,82)(253,83)(222,84)(122,85)(145,86)}
\evt{gg}{(851,17)(656,35)(1086,41)}
\evt{ls}{(1973,4)(1434,5)(1425,9)(1398,11)(466,17)(158,20)(1118,29)(326,35)(1213,36)(860,47)}
\evt{ds}{(1688,16)(1186,30)(552,33)(692,34)(968,37)(1154,40)(891,41)(498,49)}
\end{axis}

%======================= LUSC, left swimmers =======================
\begin{axis}[swimL,at={(438.3pt,-95.5pt)},width=181.4pt,height=374.8pt,
  xmin=-5,xmax=2430,ymin=-0.5,ymax=65.53,
  xlabel={Days after surgery},xlabel style={xshift=-7pt,yshift=-8pt},
  ytick={0,...,65},
  yticklabels={0681,0223,0312,0423,0118,0260,0594,0403,0608,0250,0236,0393,0603,0638,0079,0772,0086,0749,0851,0691,0535,0488,0505,0134,0731,0177,0503,0510,0737,0310,0518,0546,0424,0336,0548,0728,0587,0734,0710,0794,0193,0553,0526,0070,0518,0095,0402,0075,0078,0064,0097,0083,0066,0334,0241,0071,0232,0072,0321,0076,0057,0381,0392,0340,0308,0213}]
\stops{endsL}{10 d\\10 d\\15 d\\20 d\\94 d\\94 d\\148 c\\188 d\\255 c\\282 c\\
282 c\\345 c\\345 d\\420 d\\501 c\\725 c\\877 d\\1025 c\\1083 c\\1083 c\\
1154 c\\1208 c\\1235 c\\1338 c\\1338 d\\1391 d\\1409 d\\1414 c\\1432 c\\1441 c\\
1458 c\\1481 c\\1494 c\\1530 c\\1539 c\\1566 c\\1575 c\\1579 c\\1629 c\\1633 c\\
1642 c\\1646 c\\1660 c\\1687 d\\1740 c\\1754 c\\1776 c\\1785 c\\1807 c\\1816 c\\
1830 c\\1830 c\\1834 c\\1843 c\\1847 c\\1852 c\\1861 c\\1865 c\\1915 c\\1933 c\\
1937 c\\1942 c\\1955 c\\1964 c\\1982 c\\1986 c\\}
\period{76 14 45\\}
\thera{vino}{31 9 103\\31 14 45\\121 14 62\\27 15 116\\40 27 103\\22 31 108\\67 32 107\\72 34 116\\40 41 103\\49 42 112\\62 43 2\\93 51 2\\49 55 67\\98 61 99\\}
\evt{pk}{(98,16)(72,23)(143,31)}
\end{axis}

%======================= LUSC, right swimmers =======================
\begin{axis}[swimR,at={(444pt,-23.3pt)},width=181pt,height=386.3pt,
  xmax=2439,ymin=-0.6,ymax=67.5,
  xlabel={Days after surgery},xlabel style={xshift=4pt},
  ytick={0,...,67},
  yticklabels={0090,\q{0098},0254,0329,0318,\q{0258},\q{0583},\q{0384},\q{0285},0448,\q{0752},0256,0286,\q{0465},0146,\q{0330},\q{0575},\q{0483},\q{0385},0074,0272,0250,\q{0333},0173,0478,\q{0528},\q{0553},\q{0373},0303,0088,\q{0555},\q{0699},\q{0356},0235,0244,0343,0063,0073,0284,0251,0282,0535,0227,\q{0763},0590,0201,0674,0714,\q{0751},0617,0331,0065,0467,0311,0419,\q{0253},0781,0444,0080,0455,0295,0513,0453,0540,0468,0087,0077,0092}]
\stops{endsR}{2368 c\\2202 d\\1991 c\\1896 c\\1843 d\\1852 d\\1847 d\\1829 c\\1807 d\\1775 d\\
1685 c\\1672 d\\1663 d\\1640 c\\1609 d\\1550 c\\1532 d\\1452 d\\1425 d\\1411 d\\
1398 d\\1335 c\\1326 c\\1312 d\\1303 d\\1290 d\\1258 d\\1231 c\\1209 c\\1168 d\\
1092 d\\1074 d\\989 d\\980 d\\939 d\\885 d\\863 d\\840 d\\800 d\\782 d\\
724 c\\728 d\\571 d\\553 d\\548 d\\548 d\\535 d\\521 c\\499 d\\485 d\\
463 d\\445 d\\422 d\\413 d\\382 d\\373 d\\315 d\\306 d\\283 d\\279 d\\
256 d\\247 d\\247 d\\211 d\\157 d\\135 d\\157 d\\126 d\\}
\period{58 0 45\\}
\thera{vino}{103 0 54\\22 0 36\\54 1 81\\48 5 2\\44 6 2\\67 7 90\\31 13 104\\36 18 112\\22 20 54\\22 23 90\\62 36 2\\13 40 99\\31 42 104\\45 44 103\\57 47 2\\57 49 2\\45 50 58\\90 56 90\\45 57 90\\58 58 90\\53 64 2\\}
\evt{pk}{(139,53)}
\evt{yl}{(1146,0)(706,3)(1748,9)(1245,11)(584,14)(809,19)(225,21)(989,24)(1168,28)(589,30)(548,33)(629,38)(553,39)(377,40)(490,42)(485,45)(225,47)(288,49)(193,59)(121,64)}
\evt{og}{(395,34)(795,37)(319,44)(112,50)(265,51)(409,53)(180,60)(184,63)(108,67)}
\evt{rr}{(526,2)(1838,4)(1011,12)(1335,20)(885,35)(463,36)(427,41)(108,46)(225,52)(292,54)(180,57)(256,58)(58,61)(225,62)(130,65)(153,66)}
\evt{gg}{(813,23)(1034,27)(315,56)}
\evt{ls}{(674,6)(1393,7)(1326,13)(1213,15)(517,16)(1002,22)(589,25)(1173,26)(786,32)}
\evt{ds}{(1910,1)(773,5)(1416,8)(476,10)(1326,17)(575,18)(885,27)(1056,29)(1043,31)(279,43)(499,48)(247,55)}
\end{axis}

%======================= Other, left swimmers =======================
\begin{axis}[swimL,at={(438.3pt,-589pt)},width=181.4pt,height=121.7pt,
  xmin=-5,xmax=2430,ymin=-0.5,ymax=22.57,
  xlabel={Days after surgery},xlabel style={xshift=-11pt,yshift=-4pt},
  ytick={0,...,22},
  yticklabels={0196,0273,0098,0099,0492,0100,0717,0698,0476,0420,0150,0606,0732,0522,0595,0286,0649,0614,0527,0372,0544,0095,0598}]
\stops{endsL}{10 d\\10 d\\31 d\\67 d\\143 c\\452 d\\515 d\\787 c\\1114 c\\1338 d\\1351 d\\1458 c\\1548 c\\1552 d\\1602 c\\1611 c\\1615 c\\1629 c\\1651 c\\1664 c\\1705 c\\1839 c\\1857 c\\}
\thera{etop}{63 5 170\\40 20 90\\}
\thera{vino}{54 11 98\\54 19 98\\54 22 98\\}
\evt{gg}{(362,5)}
\end{axis}

%======================= Other, right swimmers =======================
\begin{axis}[swimR,at={(444pt,-557.3pt)},width=181pt,height=132.6pt,
  xmax=2439,ymin=-0.47,ymax=22.5,
  xlabel={Days after surgery},xlabel style={xshift=4pt},
  ytick={0,...,22},
  yticklabels={\q{0315},0514,0097,0245,0702,\q{0555},0013,0484,0769,0129,0454,0537,0424,0706,0084,0582,0345,0719,0271,0563,0718,0096,0640}]
\stops{endsR}{2076 c\\1595 c\\1447 d\\1182 d\\1038 d\\998 c\\930 d\\854 d\\697 d\\436 d\\404 d\\369 d\\337 d\\333 d\\306 d\\283 d\\279 d\\180 d\\135 d\\166 d\\157 d\\157 d\\99 d\\}
\thera{etop}{45 3 112\\}
\thera{vino}{31 4 104\\22 6 104\\31 7 72\\76 11 117\\45 12 103\\31 15 90\\58 18 32\\31 22 45\\}
\thera{peme}{157 16 68\\}
\evt{pk}{(144,6)}
\evt{yl}{(737,2)(1034,3)(351,4)(333,12)(184,15)(166,19)(126,20)(108,21)}
\evt{og}{(917,6)(135,7)(404,10)(103,16)(153,17)(108,18)(90,22)}
\evt{rr}{(1411,1)(270,8)(274,11)(211,13)(279,14)}
\evt{gg}{(436,9)}
\evt{ls}{(1811,0)}
\evt{ds}{(881,5)}
\end{axis}

%======================= titles and legends =======================
\begin{axis}[scale only axis,at={(0,0)},anchor=north west,width=719pt,height=1008pt,
  xmin=0,xmax=719,ymin=0,ymax=1008,y dir=reverse,hide axis,clip=false]
\node[anchor=west,inner sep=0pt,font=\fontsize{14.5}{15}\selectfont\bfseries] at (axis cs:2,10) {LUAD};
\node[anchor=west,inner sep=0pt,font=\fontsize{14.5}{15}\selectfont\bfseries] at (axis cs:365,8) {LUSC};
\node[anchor=west,inner sep=0pt,font=\fontsize{14.5}{15}\selectfont\bfseries] at (axis cs:365,544) {Other};
\Hd{41}{59}{CRUK}
\Hd{274.5}{16}{CRUK}
\Hd{403}{89}{CRUK}
\Hd{637.5}{16}{CRUK}
\Hd{406}{582.7}{CRUK}
\Hd{635}{551.7}{CRUK}
% Event
\Hd{237}{712}{Event}
\addplot[only marks,mark=x,mark size=1.3pt,black!75,line width=.45pt] coordinates {(244.5,728)};
\addplot[only marks,mark=gt,black!75,line width=.4pt] coordinates {(244.5,744)};
\Tx{257}{728}{Death}
\Tx{257}{744}{Censored}
% New lesion
\Hd{235}{777}{New Lesion}
\addplot[yl] coordinates {(242.7,794)};
\addplot[og] coordinates {(242.7,809)};
\addplot[rr] coordinates {(242.7,824.3)};
\addplot[gg] coordinates {(242.7,840)};
\addplot[ls] coordinates {(242.7,855.3)};
\addplot[ds] coordinates {(242.7,870.7)};
\Tx{255.3}{794}{Intrathoracic recurrence}
\Tx{255.3}{809}{Extrathoracic recurrence}
\Tx{255.3}{824.3}{Intrathoracic and extrathoracic\\recurrence}
\Tx{255.3}{840}{Unknown site of recurrence}
\Tx{255.3}{855.3}{New primary lung}
\Tx{255.3}{870.7}{Other second primary}
% Adjuvant therapy
\Hd{275.7}{900.3}{Adjuvant Therapy}
\addplot[only marks,mark=*,mark size=2.1pt,etop] coordinates {(283.3,916.7)};
\addplot[only marks,mark=*,mark size=2.1pt,peme] coordinates {(283.3,932.3)};
\addplot[only marks,mark=*,mark size=2.1pt,vino] coordinates {(283.3,947.7)};
\Bx{277}{960.7}{289}{964.7}{radio}
\Bx{277}{976}{289}{978}{peri}
\Tx{296}{916.7}{Platinum: etoposide}
\Tx{296}{932.3}{Platinum: pemetrexed}
\Tx{296}{947.7}{Platinum: vinorelbine}
\Tx{296}{962.7}{Radiotherapy}
\Tx{296}{977}{Therapy period}
% Stage
\Hd{400}{793.7}{Stage}
\Bx{400}{802.7}{415}{818}{stgA}
\Bx{400}{818}{415}{833.3}{stgB}
\Bx{400}{833.3}{415}{848.7}{stgC}
\Bx{400}{848.7}{415}{864}{stgD}
\Bx{400}{864}{415}{879.3}{stgE}
\Bx{400}{879.3}{415}{895}{stgF}
\Tx{420}{810}{IA}
\Tx{420}{825.3}{IB}
\Tx{420}{841}{IIA}
\Tx{420}{856.3}{IIB}
\Tx{420}{871.7}{IIIA}
\Tx{420}{887}{IIIB}
% Smoking
\Hd{399.3}{913.3}{Smoking status}
\Bx{399}{922.7}{414.3}{938}{smkN}
\Bx{399}{938}{414.3}{953.3}{smkE}
\Bx{399}{953.3}{414.3}{968.7}{black}
\Tx{419.3}{930.3}{Never smoked}
\Tx{419.3}{945.7}{Ex-smoker}
\Tx{419.3}{961.3}{Smoker}
% colour bars
\Hd{496.7}{792.3}{No. of regions}
\shade[top color=regT,bottom color=regB] (axis cs:496.7,801.7) rectangle (axis cs:511.7,876.7);
\Bx{496.7}{876.7}{511.7}{892.3}{ne}
\Tk{511.7}{810.3}\Tk{511.7}{827}\Tk{511.7}{844.3}\Tk{511.7}{861}
\Tx{516.7}{810.3}{10}
\Tx{516.7}{827}{8}
\Tx{516.7}{844.3}{6}
\Tx{516.7}{861}{4}
\Tx{516.7}{876.7}{2}
\Tx{516.7}{888}{Not evaluable}
\Hd{572.7}{792.7}{Mutation ITH}
\shade[top color=mutT,bottom color=mutB] (axis cs:572.3,801.7) rectangle (axis cs:587.7,876.7);
\Bx{572.3}{876.7}{587.7}{892.3}{ne}
\Tk{587.7}{821.3}\Tk{587.7}{840.3}\Tk{587.7}{859.7}
\Tx{592.7}{803.7}{1.00}
\Tx{592.7}{821.3}{0.75}
\Tx{592.7}{840.3}{0.50}
\Tx{592.7}{859.7}{0.25}
\Tx{592.7}{876.7}{0.00}
\Tx{592.7}{888}{Not evaluable}
\Hd{648.7}{792}{SCNA ITH}
\shade[top color=scnT,bottom color=scnB] (axis cs:648.3,801) rectangle (axis cs:664,876.7);
\Bx{648.3}{876.7}{664}{892.3}{ne}
\Tk{664}{820.3}\Tk{664}{839.7}\Tk{664}{858.3}
\Tx{668.7}{803}{1.00}
\Tx{668.7}{820.3}{0.75}
\Tx{668.7}{839.7}{0.50}
\Tx{668.7}{858.3}{0.25}
\Tx{668.7}{876}{0.00}
\Tx{668.7}{888}{Not evaluable}
% WGD keys
\Hd{494.3}{911}{No. of truncal WGDs}
\Bx{494.3}{920}{509.3}{935.3}{cloA}
\Bx{494.3}{935.3}{509.3}{950.7}{cloB}
\Bx{494.3}{950.7}{509.3}{966}{cloC}
\Bx{494.3}{966}{509.3}{981.7}{ne}
\Tx{514}{928}{0}
\Tx{514}{943.3}{1}
\Tx{514}{958.7}{2}
\Tx{514}{974.3}{Not evaluable}
\Hd{592.7}{911}{No. of subclonal WGDs}
\Bx{592.3}{920}{607.3}{935.3}{subA}
\Bx{592.3}{935.3}{607.3}{950.7}{subB}
\Bx{592.3}{950.7}{607.3}{966}{subC}
\Bx{592.3}{966}{607.3}{981.7}{ne}
\Tx{612.3}{928}{0}
\Tx{612.3}{943.3}{1}
\Tx{612.3}{958.7}{2}
\Tx{612.3}{974.3}{Not evaluable}
\end{axis}
\end{tikzpicture}
\end{document}
